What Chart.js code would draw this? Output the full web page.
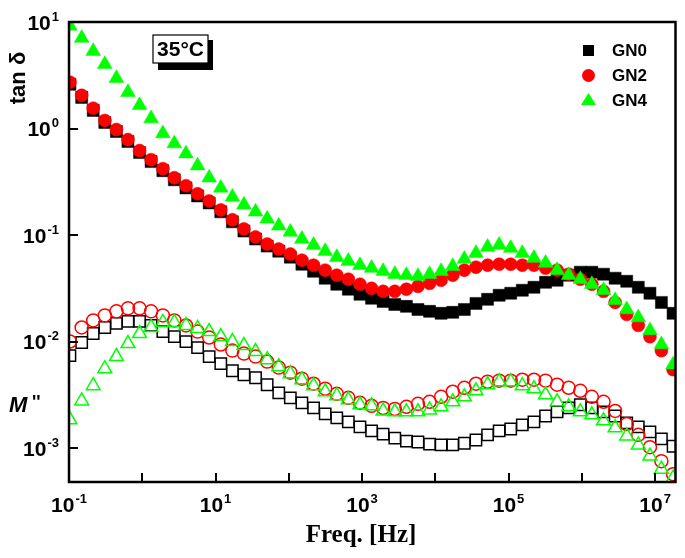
<!DOCTYPE html>
<html>
<head>
<meta charset="utf-8">
<script src="https://cdn.jsdelivr.net/npm/chart.js@4.4.0/dist/chart.umd.min.js"></script>
<style>
  html, body { margin: 0; padding: 0; background: #fff; }
  #wrap { width: 685px; height: 558px; position: relative; }
</style>
</head>
<body>
<div id="wrap"><canvas id="chart"></canvas></div>
<script>
// frequency points (Hz)
const freq = [0.103, 0.149, 0.214, 0.308, 0.444, 0.638, 0.919, 1.32, 1.91, 2.74,
  3.95, 5.69, 8.19, 11.8, 17.0, 24.4, 35.2, 50.7, 73.0, 105,
  151, 218, 314, 452, 650, 937, 1350, 1940, 2800, 4030,
  5800, 8350, 12000, 17300, 24900, 35900, 51700, 74400, 107000, 154000,
  222000, 320000, 460000, 662000, 954000, 1.37e6, 1.98e6, 2.85e6, 4.10e6, 5.90e6,
  8.51e6, 1.22e7, 1.76e7];

// tan delta
const tanGN0 = [2.60, 1.96, 1.48, 1.14, 0.937, 0.754, 0.594, 0.489, 0.402, 0.330,
  0.277, 0.233, 0.200, 0.165, 0.133, 0.109, 0.0917, 0.0787, 0.0706, 0.0620,
  0.0532, 0.0457, 0.0393, 0.0345, 0.0310, 0.0278, 0.0255, 0.0238, 0.0223, 0.0214,
  0.0200, 0.0192, 0.0184, 0.0188, 0.0200, 0.0228, 0.0249, 0.0272, 0.0284, 0.0303,
  0.0323, 0.0360, 0.0376, 0.0420, 0.0448, 0.0448, 0.0429, 0.0393, 0.0368, 0.0323,
  0.0284, 0.0233, 0.0184];
const tanGN2 = [2.72, 2.05, 1.55, 1.19, 0.978, 0.787, 0.620, 0.510, 0.420, 0.345,
  0.290, 0.244, 0.209, 0.172, 0.139, 0.114, 0.0958, 0.0822, 0.0738, 0.0662,
  0.0581, 0.0521, 0.0468, 0.0420, 0.0385, 0.0345, 0.0316, 0.0296, 0.0296, 0.0310,
  0.0330, 0.0352, 0.0376, 0.0420, 0.0468, 0.0499, 0.0521, 0.0532, 0.0532, 0.0521,
  0.0521, 0.0489, 0.0468, 0.0429, 0.0385, 0.0345, 0.0296, 0.0233, 0.0180, 0.0142,
  0.0111, 0.00822, 0.00545];
const tanGN4 = [9.17, 7.06, 5.32, 4.02, 2.96, 2.19, 1.65, 1.24, 0.897, 0.722,
  0.581, 0.448, 0.345, 0.277, 0.228, 0.192, 0.165, 0.142, 0.122, 0.107,
  0.0917, 0.0805, 0.0706, 0.0620, 0.0569, 0.0521, 0.0489, 0.0457, 0.0429, 0.0420,
  0.0411, 0.0429, 0.0457, 0.0510, 0.0594, 0.0676, 0.0771, 0.0805, 0.0754, 0.0676,
  0.0607, 0.0545, 0.0468, 0.0420, 0.0385, 0.0345, 0.0303, 0.0244, 0.0200, 0.0168,
  0.0127, 0.00937, 0.00607];

// M''
const mGN0 = [0.00738, 0.00979, 0.01189, 0.01355, 0.01479, 0.01545, 0.01545, 0.01416, 0.0124, 0.01114,
  0.0100, 0.00877, 0.00722, 0.00620, 0.00532, 0.00488, 0.00457, 0.00393, 0.00330, 0.00296,
  0.00266, 0.00238, 0.00209, 0.00192, 0.00176, 0.00158, 0.00145, 0.00135, 0.00124, 0.00116,
  0.00114, 0.00109, 0.00107, 0.00107, 0.00111, 0.00119, 0.00133, 0.00145, 0.00151, 0.00165,
  0.00176, 0.00200, 0.00219, 0.00238, 0.00255, 0.00238, 0.00219, 0.00200, 0.00172, 0.00158,
  0.00142, 0.00122, 0.00104];
const mGN2 = [0.0100, 0.01355, 0.01578, 0.01758, 0.0192, 0.0205, 0.0205, 0.0192, 0.01758, 0.01578,
  0.01416, 0.0124, 0.0109, 0.00937, 0.00822, 0.00771, 0.00722, 0.00648, 0.00569, 0.00510,
  0.00448, 0.00402, 0.00361, 0.00323, 0.00296, 0.00266, 0.00249, 0.00238, 0.00233, 0.00244,
  0.00260, 0.00272, 0.00303, 0.00338, 0.00368, 0.00402, 0.00420, 0.00429, 0.00429, 0.00438,
  0.00438, 0.00429, 0.00393, 0.00368, 0.00345, 0.00303, 0.00272, 0.00223, 0.00168, 0.00133,
  0.00102, 0.000753, 0.000569];
const mGN4 = [0.00184, 0.00277, 0.00385, 0.00556, 0.00722, 0.00957, 0.01189, 0.01355, 0.0151, 0.0151,
  0.01416, 0.01327, 0.0124, 0.01114, 0.0100, 0.00917, 0.00805, 0.00676, 0.00581, 0.00499,
  0.00438, 0.00385, 0.00338, 0.00310, 0.00284, 0.00255, 0.00249, 0.00223, 0.00219, 0.00219,
  0.00219, 0.00228, 0.00244, 0.00272, 0.00303, 0.00345, 0.00393, 0.00420, 0.00420, 0.00385,
  0.00361, 0.00316, 0.00272, 0.00244, 0.00219, 0.00205, 0.00180, 0.00155, 0.00130, 0.00107,
  0.000841, 0.000634, 0.000521];

const xTickExps = [-1, 0, 1, 2, 3, 4, 5, 6, 7];
const xLabelExps = [-1, 1, 3, 5, 7];
const yTickExps = [1, 0, -1, -2, -3];
const legendNames = ['GN0', 'GN2', 'GN4'];

const SANS = '"Liberation Sans", Arial, sans-serif';

function pts(ys) {
  return freq.map((f, i) => ({ x: f, y: ys[i] }));
}

function series(label, ys, shape, color, filled, radius, order) {
  return {
    label,
    data: pts(ys),
    showLine: false,
    pointStyle: shape,
    pointRadius: radius,
    pointHoverRadius: radius,
    pointBackgroundColor: filled ? color : 'rgba(0,0,0,0)',
    pointBorderColor: color,
    pointBorderWidth: filled ? 0.5 : 1.5,
    order,
    clip: 0
  };
}

// draws "10" with a raised exponent
function drawPow(ctx, exp, x, y, align) {
  ctx.font = 'bold 21px ' + SANS;
  const wb = ctx.measureText('10').width;
  ctx.font = 'bold 13px ' + SANS;
  const we = ctx.measureText(String(exp)).width;
  const total = wb + 1 + we;
  let left = x;
  if (align === 'right') left = x - total;
  if (align === 'center') left = x - total / 2;
  ctx.textAlign = 'left';
  ctx.textBaseline = 'middle';
  ctx.font = 'bold 21px ' + SANS;
  ctx.fillText('10', left, y);
  ctx.font = 'bold 13px ' + SANS;
  ctx.fillText(String(exp), left + wb + 1, y - 7);
}

const decor = {
  id: 'decor',
  afterDraw(chart) {
    const { ctx, chartArea: a, scales: { x, y } } = chart;
    ctx.save();
    ctx.fillStyle = '#000';
    ctx.strokeStyle = '#000';

    // ticks (inward)
    ctx.lineWidth = 2;
    ctx.beginPath();
    xTickExps.forEach(e => {
      const px = Math.round(x.getPixelForValue(Math.pow(10, e)));
      ctx.moveTo(px, a.bottom);
      ctx.lineTo(px, a.bottom - 9);
    });
    yTickExps.forEach(e => {
      const py = Math.round(y.getPixelForValue(Math.pow(10, e)));
      ctx.moveTo(a.left, py);
      ctx.lineTo(a.left + 9, py);
    });
    ctx.stroke();

    // frame
    ctx.lineWidth = 2.5;
    ctx.strokeRect(a.left, a.top, a.right - a.left, a.bottom - a.top);

    // tick labels
    xLabelExps.forEach(e => {
      drawPow(ctx, e, x.getPixelForValue(Math.pow(10, e)), a.bottom + 24, 'center');
    });
    yTickExps.forEach(e => {
      drawPow(ctx, e, 59, y.getPixelForValue(Math.pow(10, e)) + 2, 'right');
    });

    // axis titles
    ctx.font = 'bold 25px "Liberation Serif", "Times New Roman", serif';
    ctx.textAlign = 'center';
    ctx.textBaseline = 'alphabetic';
    ctx.fillText('Freq. [Hz]', 361, 542);

    ctx.save();
    ctx.translate(25, 78);
    ctx.rotate(-Math.PI / 2);
    ctx.font = 'bold 22px ' + SANS;
    ctx.fillText('tan \u03b4', 0, 0);
    ctx.restore();

    ctx.textAlign = 'left';
    ctx.font = 'italic bold 22px ' + SANS;
    ctx.fillText('M', 9, 412);
    ctx.font = 'bold 18px ' + SANS;
    ctx.fillText('\'\'', 32, 408);

    // temperature box
    ctx.fillRect(158, 40, 55, 30);
    ctx.fillStyle = '#fff';
    ctx.fillRect(153, 35, 55, 28);
    ctx.lineWidth = 1.2;
    ctx.strokeRect(153, 35, 55, 28);
    ctx.fillStyle = '#000';
    ctx.font = 'bold 21px ' + SANS;
    ctx.textAlign = 'center';
    ctx.textBaseline = 'middle';
    ctx.fillText('35\u00b0C', 180.5, 50);

    // legend
    ctx.textAlign = 'left';
    ctx.font = 'bold 17px ' + SANS;
    ctx.fillStyle = '#000';
    ctx.fillRect(583, 45, 11, 11);
    ctx.fillText(legendNames[0], 612, 51);
    ctx.fillStyle = '#ff0000';
    ctx.beginPath();
    ctx.arc(588.5, 75.5, 6.5, 0, Math.PI * 2);
    ctx.fill();
    ctx.fillStyle = '#000';
    ctx.fillText(legendNames[1], 612, 76);
    ctx.fillStyle = '#00ff00';
    ctx.beginPath();
    ctx.moveTo(588.5, 93);
    ctx.lineTo(596, 105);
    ctx.lineTo(581, 105);
    ctx.closePath();
    ctx.fill();
    ctx.fillStyle = '#000';
    ctx.fillText(legendNames[2], 612, 101);

    ctx.restore();
  }
};

new Chart(document.getElementById('chart'), {
  type: 'scatter',
  data: {
    datasets: [
      series('GN0', tanGN0, 'rect', '#000000', true, 8.5, 5),
      series('GN2', tanGN2, 'circle', '#ff0000', true, 6.5, 4),
      series('GN4', tanGN4, 'triangle', '#00ff00', true, 8.5, 3),
      series('GN0 M', mGN0, 'rect', '#000000', false, 8, 2),
      series('GN2 M', mGN2, 'circle', '#ff0000', false, 6.5, 1),
      series('GN4 M', mGN4, 'triangle', '#00ff00', false, 8, 0)
    ]
  },
  options: {
    responsive: true,
    maintainAspectRatio: false,
    animation: false,
    layout: { padding: { left: 69, right: 4, top: 22, bottom: 76 } },
    plugins: { legend: { display: false }, tooltip: { enabled: false } },
    scales: {
      x: { type: 'logarithmic', min: 0.1, max: 1.9e7, display: false },
      y: { type: 'logarithmic', min: 4.8e-4, max: 10, display: false }
    }
  },
  plugins: [decor]
});
</script>
</body>
</html>
